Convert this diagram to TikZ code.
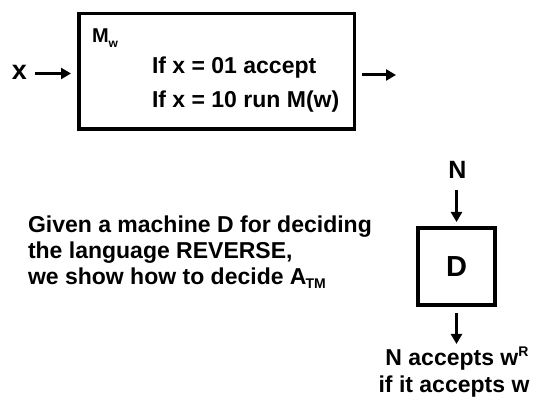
\documentclass[tikz,border=0pt]{standalone}
\usepackage{fontspec}
\setmainfont{Liberation Sans}
\usetikzlibrary{arrows.meta}
\newcommand{\mysub}[1]{\raisebox{-0.3ex}{\fontsize{14}{14}\selectfont #1}}
\newcommand{\mysup}[1]{\raisebox{0.75ex}{\fontsize{14}{14}\selectfont #1}}
\begin{document}
\begin{tikzpicture}[x=1pt,y=-1pt,
  every node/.style={inner sep=0pt,outer sep=0pt,font=\bfseries\fontsize{23}{26}\selectfont},
  boxstyle/.style={draw,line width=3.5pt},
  arr/.style={line width=3pt,-{Triangle[length=10pt,width=11pt]}}]
\useasboundingbox (0,0) rectangle (536,403);
% top machine
\node[boxstyle,minimum width=275.5pt,minimum height=115.5pt] (mw) at (216.75,71.25) {};
\node[anchor=base west,font=\bfseries\fontsize{20}{22}\selectfont] (mlabel) at (92,43) {M\raisebox{-0.45ex}{\fontsize{12}{12}\selectfont w}};
\node[anchor=base west] (l1) at (152,74) {If x = 01 accept};
\node[anchor=base west] (l2) at (152,108) {If x = 10 run M(w)};
\node[anchor=base west,font=\bfseries\fontsize{27}{28}\selectfont] (xin) at (12,80) {x};
\coordinate (xa) at (35,73.5);
\coordinate (xb) at (71,73.5);
\draw[arr] (xa) -- (xb);
\coordinate (oa) at (362,75);
\coordinate (ob) at (396,75);
\draw[arr] (oa) -- (ob);
% explanation
\node[anchor=base west] (g1) at (28,233) {Given a machine D for deciding};
\node[anchor=base west] (g2) at (28,259) {the language REVERSE,};
\node[anchor=base west] (g3) at (28,285) {we show how to decide A\kern-1pt\mysub{TM}};
% decider D
\node[boxstyle,minimum width=77pt,minimum height=77pt] (d) at (456.5,266.5) {};
\node[font=\bfseries\fontsize{29}{30}\selectfont] (dl) at (456.5,266.5) {D};
\node[anchor=base,font=\bfseries\fontsize{25}{26}\selectfont] (n) at (457.5,179) {N};
\coordinate (na) at (456.5,190);
\coordinate (nb) at (456.5,222);
\draw[arr] (na) -- (nb);
\coordinate (da) at (456.5,313);
\coordinate (db) at (456.5,344);
\draw[arr] (da) -- (db);
\node[anchor=base] (r1) at (457,366) {N accepts w\mysup{R}};
\node[anchor=base] (r2) at (454,393) {if it accepts w};
\end{tikzpicture}
\end{document}
